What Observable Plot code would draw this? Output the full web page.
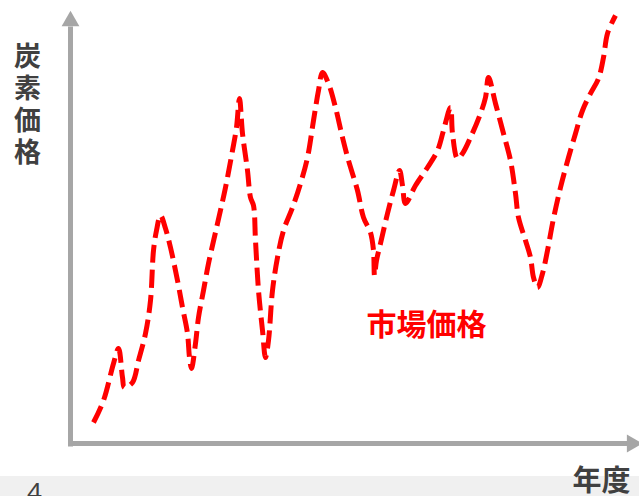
<!DOCTYPE html>
<html>
<head>
<meta charset="utf-8">
<script src="https://cdn.jsdelivr.net/npm/d3@7"></script>
<script src="https://cdn.jsdelivr.net/npm/@observablehq/plot@0.6"></script>
<style>
  html, body { margin: 0; padding: 0; background: #ffffff; }
  #wrap { position: relative; width: 639px; height: 496px; overflow: hidden; font-family: "Noto Sans CJK JP", "Noto Sans", sans-serif; }
  #band { position: absolute; left: 0; top: 476px; width: 639px; height: 20px; background: #f0f0f0; }
  #chart { position: absolute; left: 0; top: 0; }
</style>
</head>
<body>
<div id="wrap"><div id="band"></div><div id="chart"></div></div>
<script>
// Time (year index, arbitrary units) and market carbon price (arbitrary index)
const years = [2.3, 3.3, 4.3, 4.8, 5.2, 5.4, 6.2, 6.8, 7.5, 8.0, 8.3, 8.6, 9.0, 9.5, 10.0, 10.7, 11.2, 11.7, 11.9, 12.1,
  12.5, 12.8, 13.3, 13.8, 14.7, 15.5, 16.2, 16.6, 16.9, 17.2, 17.7, 18.0, 18.3, 18.5, 18.8, 19.2, 19.5, 19.8, 20.2, 20.7,
  21.3, 22.2, 23.0, 23.7, 24.3, 24.8, 25.2, 25.8, 26.5, 27.2, 27.8, 28.7, 29.3, 30.0, 30.3, 30.4, 30.6, 31.0, 31.7, 32.3,
  32.9, 33.2, 33.5, 34.5, 35.7, 36.7, 37.3, 38.0, 38.2, 38.7, 39.2, 40.0, 41.0, 41.5, 41.8, 42.5, 43.3, 44.0, 44.5, 44.8,
  45.5, 46.0, 46.3, 46.7, 47.2, 47.7, 48.3, 49.0, 49.8, 50.5, 51.2, 52.0, 52.8, 53.3, 53.7, 54.5];
const prices = [5.25, 10.75, 20, 23.75, 16.5, 14, 15.25, 20.75, 27.5, 35.75, 48.25, 53.25, 57, 53.75, 49, 40.75, 34, 27.5, 21.5, 18.75,
  25, 31.5, 38.25, 45, 55, 64, 73.25, 79, 86.25, 77.5, 68.25, 61.5, 59.5, 50.75, 38.25, 28.25, 21.5, 25.75, 38.25, 46.5,
  53.25, 59, 65, 71.5, 80.75, 88.25, 92.75, 90, 84, 76.5, 70.75, 63.25, 56.5, 52.75, 48.25, 42, 45.75, 50, 57.5, 63.25,
  68.25, 64.5, 60, 64.5, 69, 73.25, 78.25, 84, 77.5, 71.25, 72.5, 76.5, 82.5, 86.5, 91.5, 85, 77.5, 70.75, 62.5, 56.5,
  50.75, 46.5, 41.5, 39, 42.5, 48.25, 56.25, 64, 71.5, 77.5, 83.25, 87.5, 91.25, 96.5, 102.5, 107];

const xMax = 56.9;    // extent of time axis
const yMax = 108.25;  // extent of price axis
const axisTitleY = "炭素価格";
const axisTitleX = "年度";
const seriesLabel = "市場価格";
const pageNumber = "4";

const data = years.map((t, i) => ({t, p: prices[i]}));

const gray = "#a6a6a6";
const chart = Plot.plot({
  width: 639,
  height: 496,
  margin: 0,
  style: {background: "none", overflow: "visible"},
  x: {domain: [0, xMax], range: [70, 639], axis: null},
  y: {domain: [0, yMax], range: [443, 10], axis: null},
  marks: [
    // axes
    Plot.link([{x1: 0, y1: -0.75, x2: 0, y2: yMax - 4}], {x1: "x1", y1: "y1", x2: "x2", y2: "y2", stroke: gray, strokeWidth: 5}),
    Plot.link([{x1: -0.25, y1: 0, x2: xMax - 1.2, y2: 0}], {x1: "x1", y1: "y1", x2: "x2", y2: "y2", stroke: gray, strokeWidth: 5}),
    Plot.dot([{x: 0, y: yMax - 2.65, r: 0}, {x: xMax - 0.75, y: 0, r: 90}], {x: "x", y: "y", rotate: "r", symbol: "triangle", r: 6.6, fill: gray, stroke: "none"}),
    // market price line
    Plot.line(data, {x: "t", y: "p", curve: "catmull-rom", stroke: "#ff0000", strokeWidth: 5, strokeDasharray: "18,7", strokeLinecap: "butt"}),
    // labels
    Plot.text([seriesLabel], {x: 35.6, y: 29.5, text: d => d, fill: "#ff0000", fontSize: 30, fontWeight: "bold", fontFamily: "Noto Sans CJK JP"}),
    Plot.text([axisTitleY], {x: -4.3, y: 86.5, text: d => d, fill: "#404040", fontSize: 27, fontWeight: "bold", fontFamily: "Noto Sans CJK JP", dy: 0}),
    Plot.text([axisTitleX], {x: 53.1, y: -9.5, text: d => d, fill: "#404040", fontSize: 29, fontWeight: "bold", fontFamily: "Noto Sans CJK JP"}),
    Plot.text([pageNumber], {x: -3.6, y: -9.75, text: d => d, fill: "#404040", fontSize: 26, textAnchor: "middle", lineAnchor: "top", fontFamily: "Noto Sans"})
  ]
});
// render the y-axis title vertically (stacked characters)
for (const t of chart.querySelectorAll("text")) {
  if (t.textContent === axisTitleY) {
    t.style.writingMode = "vertical-rl";
    t.style.textOrientation = "upright";
    t.style.letterSpacing = "5px";
  }
}
document.getElementById("chart").appendChild(chart);
</script>
</body>
</html>
